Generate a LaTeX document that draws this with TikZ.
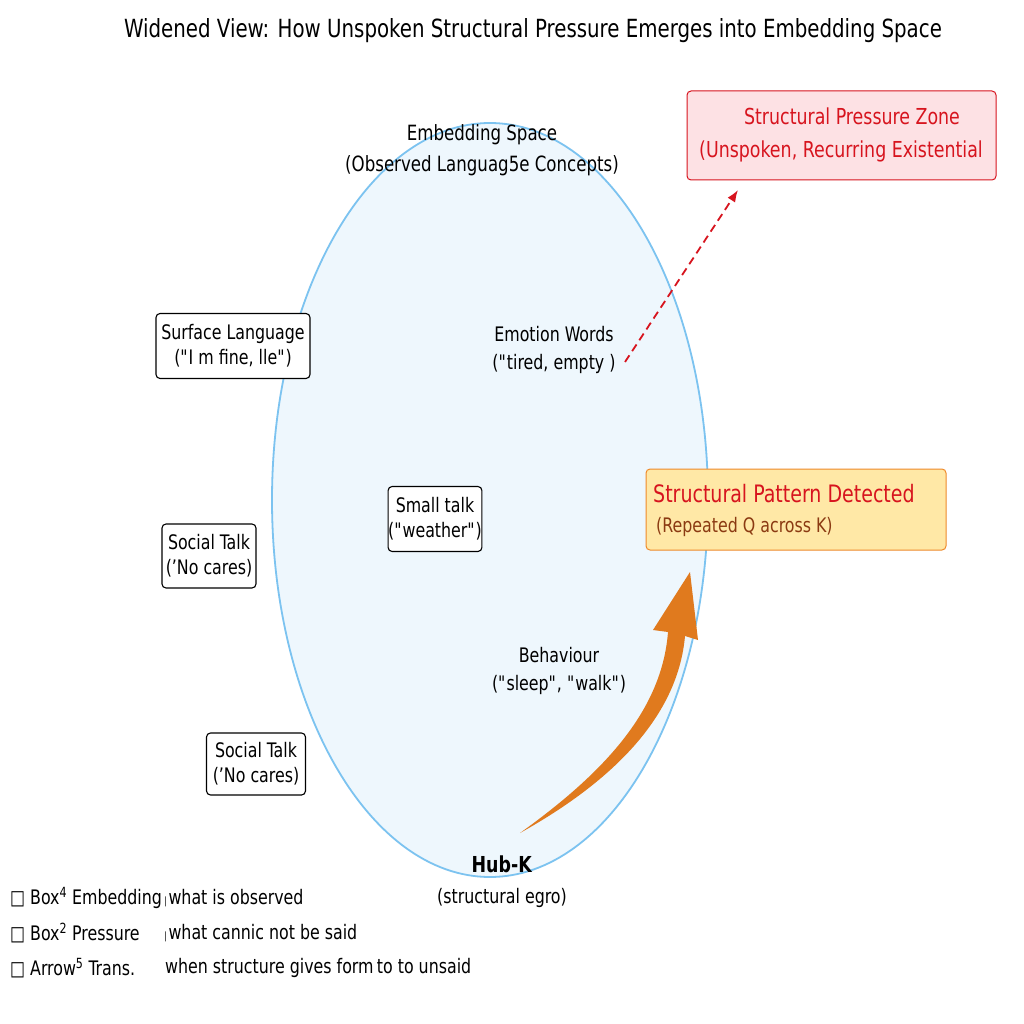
\documentclass[tikz,border=0pt]{standalone}
\usepackage{fontspec}
\setmainfont{DejaVu Sans Condensed}[FakeStretch=0.88]
\usetikzlibrary{arrows.meta}
\definecolor{ellfill}{HTML}{EEF7FD}
\definecolor{elldraw}{HTML}{7CC3F0}
\definecolor{zred}{HTML}{D7141E}
\definecolor{zfill}{HTML}{FDE1E4}
\definecolor{pfill}{HTML}{FFE8A6}
\definecolor{pdraw}{HTML}{EE8A2A}
\definecolor{ptext}{HTML}{8B3A12}
\definecolor{orarrow}{HTML}{E07A1E}
\begin{document}
\begin{tikzpicture}[x=1pt,y=-1pt,
  lbl/.style={font=\fontsize{20}{24}\selectfont, align=center, inner sep=0pt},
  box/.style={draw=black, rounded corners=4pt, fill=white, line width=1.1pt, align=center, font=\fontsize{20}{25}\selectfont, inner sep=0pt},
  leg/.style={font=\fontsize{20}{20}\selectfont, anchor=west, inner sep=0pt}]
\useasboundingbox (0,0) rectangle (1024,1024);
\fill[white] (0,0) rectangle (1024,1024);
\node[lbl, font=\fontsize{25}{28}\selectfont] (title) at (533,31) {Widened View: How Unspoken Structural Pressure Emerges into Embedding Space};
\draw[elldraw, fill=ellfill, line width=1.8pt] (490,500) ellipse [x radius=218, y radius=377];
\node[lbl, font=\fontsize{21}{31}\selectfont] (emb) at (482,150) {Embedding Space\\(Observed Languag5e Concepts)};
\node[box, minimum width=154, minimum height=65] (surf) at (233,346) {Surface Language\\(\textquotedbl I m fine, lle\textquotedbl)};
\node[box, minimum width=94, minimum height=64] (soc1) at (209,556) {Social Talk\\('No cares)};
\node[box, minimum width=99, minimum height=62] (soc2) at (256,764) {Social Talk\\('No cares)};
\node[box, minimum width=90, minimum height=65] (small) at (435,519) {Small talk\\(\textquotedbl weather\textquotedbl)};
\node[lbl, font=\fontsize{20}{28}\selectfont] (emo) at (554,350) {Emotion Words\\(\textquotedbl tired, empty )};
\node[lbl, font=\fontsize{20}{28}\selectfont] (beh) at (559,671) {Behaviour\\(\textquotedbl sleep\textquotedbl, \textquotedbl walk\textquotedbl)};
\node[lbl, font=\fontsize{20}{31}\selectfont] (hub) at (502,882) {\fontsize{22}{31}\selectfont\textbf{Hub-K}\\(structural egro)};
\node[draw=zred, fill=zfill, rounded corners=4pt, line width=1pt, minimum width=309, minimum height=89, inner sep=0pt] (zone) at (841.5,135.5) {};
\node[lbl, text=zred, font=\fontsize{22}{33}\selectfont] (zonet) at (841,135) {\hspace*{22pt}Structural Pressure Zone\\(Unspoken, Recurring Existential};
\node[draw=pdraw, fill=pfill, rounded corners=4pt, line width=1pt, minimum width=300, minimum height=81, inner sep=0pt] (pat) at (796,509.5) {};
\node[lbl, anchor=west, text=zred, font=\fontsize{24}{26}\selectfont] (patt) at (653,494) {Structural Pattern Detected};
\node[lbl, anchor=west, text=ptext, font=\fontsize{20}{22}\selectfont] (pats) at (656,527) {(Repeated Q across K)};
\coordinate (ds) at (625,362);
\coordinate (de) at (738,190);
\draw[zred, line width=1.8pt, dash pattern=on 8pt off 5pt, -{Latex[length=12pt,width=9pt]}] (ds) -- (de);
\fill[orarrow] (520,833) .. controls (605,772) and (662,710) .. (668,632)
  -- (653,630) -- (690,572) -- (698,640) -- (685,636)
  .. controls (678,715) and (615,780) .. (520,833) -- cycle;
\node[leg] (l1) at (10,898) {□ Box\textsuperscript{4} Embedding};
\node[leg] (l1b) at (164,898) {\fontsize{10}{10}\selectfont|\,\fontsize{20}{20}\selectfont what is observed};
\node[leg] (l2) at (10,933) {□ Box\textsuperscript{2} Pressure};
\node[leg] (l2b) at (164,933) {\fontsize{10}{10}\selectfont|\,\fontsize{20}{20}\selectfont what cannic not be said};
\node[leg] (l3) at (10,968) {□ Arrow\textsuperscript{5} Trans.};
\node[leg] (l3b) at (165,968) {when structure gives form\,to to unsaid};
\end{tikzpicture}
\end{document}
